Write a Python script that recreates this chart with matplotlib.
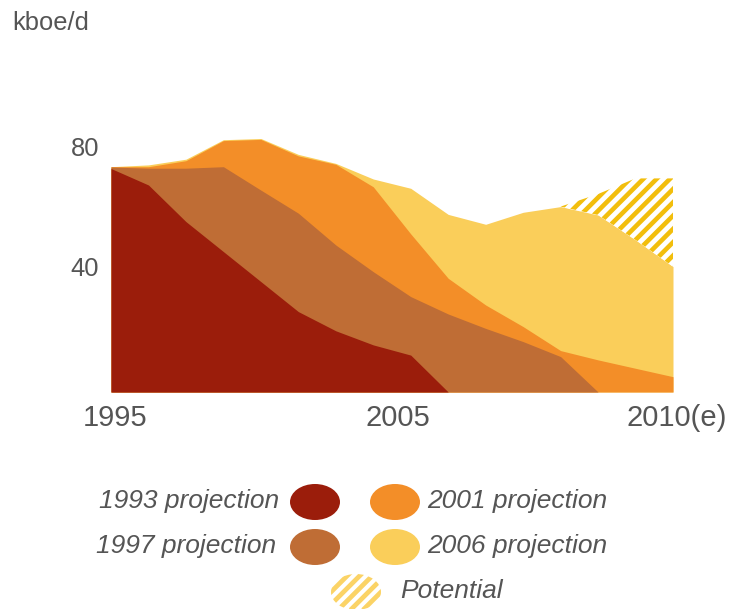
import numpy as np
import matplotlib
matplotlib.use("Agg")
import matplotlib.pyplot as plt
from matplotlib.patches import Ellipse, Polygon
from matplotlib.lines import Line2D
import matplotlib.transforms as mtransforms

# ---------------- data ----------------
years = list(range(1995, 2011))
proj_1993 = [74.5, 69.0, 56.8, 46.8, 36.8, 26.8, 20.4, 15.7, 12.3, 0.0]
proj_1997 = [75.0, 74.6, 74.6, 75.1, 67.3, 59.6, 49.0, 40.1, 31.8, 26.0,
             21.2, 16.8, 11.8, 0.0]
proj_2001 = [75.1, 75.1, 77.1, 83.8, 84.2, 78.7, 75.9, 68.4, 52.7, 37.9,
             29.0, 21.8, 13.8, 10.7, 7.9, 5.1]
proj_2006 = [75.1, 75.7, 77.6, 84.1, 84.5, 79.2, 76.2, 71.0, 67.9, 59.2,
             55.9, 59.9, 61.8, 59.0, 50.7, 41.8]
potential_years = [2007, 2008, 2009, 2010]
potential = [61.8, 66.0, 71.2, 71.2]

xtick_labels = ["1995", "2005", "2010(e)"]
ytick_values = [40, 80]
unit_label = "kboe/d"
legend_labels = ["1993 projection", "1997 projection", "2001 projection",
                 "2006 projection", "Potential"]

# ---------------- style ----------------
C_1993 = "#9B1D0B"
C_1997 = "#BF6D35"
C_2001 = "#F38E28"
C_2006 = "#FACE5A"
C_HATCH = "#F2BE0C"
C_HATCH_LEG = "#FBD366"
TXT = "#555555"
FONT = "Liberation Sans"

plt.rcParams["font.family"] = [FONT, "DejaVu Sans"]

W, H = 730, 609
fig = plt.figure(figsize=(W / 100, H / 100), dpi=100)
fig.patch.set_facecolor("white")

# axes placed in pixel geometry of reference
ax_left, ax_right, ax_bottom_px, ax_top_px = 111, 673, 392, 122
ax = fig.add_axes([ax_left / W, (H - ax_bottom_px) / H,
                   (ax_right - ax_left) / W, (ax_bottom_px - ax_top_px) / H])
ax.set_xlim(0, 15)
ax.set_ylim(0, 90)

idx = lambda ys: np.array([y - years[0] for y in ys], dtype=float)
x_all = idx(years)

# back-to-front overlapping areas
ax.fill_between(x_all, proj_2006, color=C_2006, lw=0, zorder=1)

# potential (hatched) between 2006 projection and potential line
xp = idx(potential_years)
p2006 = np.array(proj_2006)[xp.astype(int)]
verts = list(zip(xp, potential)) + list(zip(xp[::-1], p2006[::-1]))
pot_patch = Polygon(verts, closed=True, facecolor="white", edgecolor="none",
                    transform=ax.transData, zorder=1.5)
ax.add_patch(pot_patch)

# diagonal stripes in pixel space, clipped to the potential polygon
fig.canvas.draw()
trans = ax.transData
p0 = trans.transform((0, 0))
p1 = trans.transform((1, 1))
px_x, px_y = p1[0] - p0[0], p1[1] - p0[1]
spacing_px = 13.3
ymax = 90
for k in range(-40, 60):
    x0 = k * spacing_px / px_x
    x1 = x0 + ymax * px_y / px_x
    ln = Line2D([x0, x1], [0, ymax], color=C_HATCH, lw=3.3,
                solid_capstyle="butt", zorder=1.6)
    ax.add_line(ln)
    ln.set_clip_path(pot_patch)

ax.fill_between(x_all, proj_2001, color=C_2001, lw=0, zorder=2)
ax.fill_between(x_all[:len(proj_1997)], proj_1997, color=C_1997, lw=0, zorder=3)
ax.fill_between(x_all[:len(proj_1993)], proj_1993, color=C_1993, lw=0, zorder=4)

for s in ax.spines.values():
    s.set_visible(False)

ax.set_xticks([0, 7.55, 15], xtick_labels)
ax.set_yticks(ytick_values, [str(v) for v in ytick_values])
ax.tick_params(axis="x", length=0, pad=9, labelsize=21, labelcolor=TXT)
ax.tick_params(axis="y", length=0, pad=8.4, labelsize=18.4, labelcolor=TXT)
off_y = mtransforms.ScaledTranslation(0, 6 / 100, fig.dpi_scale_trans)
for lab in ax.get_yticklabels():
    lab.set_transform(lab.get_transform() + off_y)
off_x = mtransforms.ScaledTranslation(4 / 100, 0, fig.dpi_scale_trans)
for lab in ax.get_xticklabels():
    lab.set_transform(lab.get_transform() + off_x)

fig.text(12.5 / W, (H - 30) / H, unit_label, fontsize=18.4, color=TXT,
         ha="left", va="baseline")

# ---------------- legend ----------------
ew, eh = 50 / W, 36 / H
def fy(py):
    return (H - py) / H

legend_items = [
    (legend_labels[0], C_1993, 315, 502, "right", 279),
    (legend_labels[1], C_1997, 315, 547, "right", 276),
    (legend_labels[2], C_2001, 395, 502, "left", 427),
    (legend_labels[3], C_2006, 395, 547, "left", 427),
]
for lab, col, cx, cy, ha, tx in legend_items:
    e = Ellipse((cx / W, fy(cy)), ew, eh, transform=fig.transFigure,
                facecolor=col, edgecolor="none")
    fig.add_artist(e)
    fig.text(tx / W, fy(cy + 6), lab, fontsize=19, style="italic",
             color=TXT, ha=ha, va="baseline")

# potential legend marker (hatched ellipse)
pe = Ellipse((356 / W, fy(592)), ew, eh, transform=fig.transFigure,
             facecolor="white", edgecolor="none")
fig.add_artist(pe)
for k in range(-6, 7):
    cxp = 356 + k * 12.5
    ln = Line2D([(cxp - 30) / W, (cxp + 30) / W], [fy(622), fy(562)],
                transform=fig.transFigure, color=C_HATCH_LEG, lw=3.4,
                solid_capstyle="butt")
    fig.add_artist(ln)
    ln.set_clip_path(pe)
fig.text(400 / W, fy(598), legend_labels[4], fontsize=19, style="italic",
         color=TXT, ha="left", va="baseline")

fig.savefig("out.png", dpi=100, facecolor="white")
